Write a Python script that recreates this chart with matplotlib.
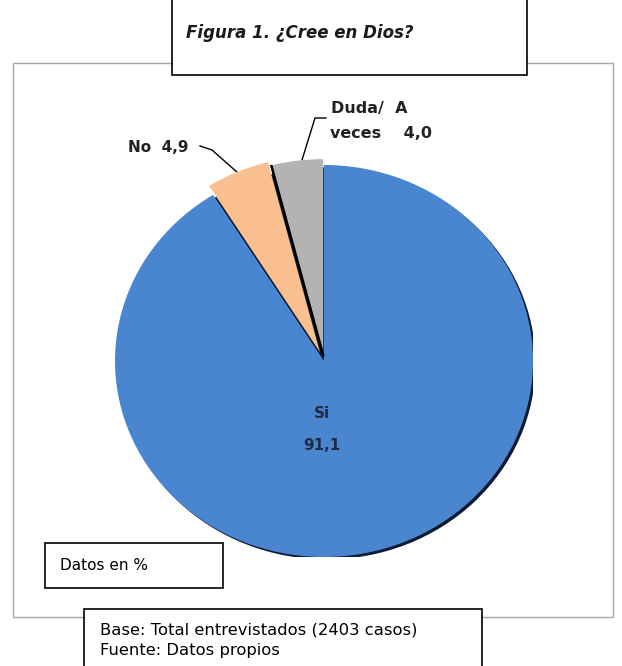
import matplotlib
matplotlib.use("Agg")
import matplotlib.pyplot as plt
from matplotlib.patches import Rectangle, Ellipse
from matplotlib.lines import Line2D
import numpy as np

# data
labels = ["Si", "No", "Duda/ A veces"]
values = [91.1, 4.9, 4.0]
colors = ["#4A86D0", "#FAC090", "#B3B3B3"]
explode = [0.0, 0.05, 0.03]

W, H = 622, 666
fig = plt.figure(figsize=(W / 100, H / 100), dpi=100)

def fx(x):
   return x / W

def fy(y):
   return 1 - y / H

def box(x0, y0, x1, y1, ec="black", lw=1.2):
   r = Rectangle((fx(x0), fy(y1)), fx(x1) - fx(x0), fy(y0) - fy(y1),
                 transform=fig.transFigure, fc="white", ec=ec, lw=lw, zorder=1)
   fig.patches.append(r)

# outer chart frame
box(13, 63, 613, 617, ec="#A6A6A6", lw=1.0)

# pie axes (ellipse bounds in pixels)
cx, cy, rx, ry = 324, 361, 209, 196
ax = fig.add_axes([fx(cx - rx), fy(cy + ry), 2 * rx / W, 2 * ry / H])
ax.set_zorder(2)
# dark shadow rim
ax.add_patch(Ellipse((0.012, -0.012), 2, 2, fc="#0D1A33", ec="none", zorder=0))
wedges, _ = ax.pie(values, colors=colors, startangle=90, counterclock=False,
                   explode=explode, wedgeprops=dict(lw=0), radius=1)
for w in wedges:
   w.set_zorder(1)
ax.set_aspect("auto")
ax.set_xlim(-1, 1)
ax.set_ylim(-1, 1)
ax.axis("off")

# black edge between No and Duda
ang = np.deg2rad(90 + values[2] * 3.6)
ex, ey = explode[2] * np.cos(np.deg2rad(90 + values[2] * 1.8)), explode[2] * np.sin(np.deg2rad(90 + values[2] * 1.8))
ax.plot([ex, ex + np.cos(ang)], [ey, ey + np.sin(ang)], color="black", lw=1.8, zorder=3)

# title box
box(172, -5, 527, 75)
fig.text(fx(186), fy(33), "Figura 1. ¿Cree en Dios?", fontsize=12, style="italic",
         weight="bold", family="DejaVu Sans", va="center", ha="left", zorder=3,
         color="#1A1A1A")

# slice labels
lab = dict(fontsize=11, weight="bold", va="center", color="#222222")
fig.text(fx(322), fy(413), "Si", ha="center", **{**lab, "color": "#1F2A44"})
fig.text(fx(322), fy(445), "91,1", ha="center", **{**lab, "color": "#1F2A44"})
fig.text(fx(128), fy(148), "No  4,9", ha="left", **lab)
fig.text(fx(331), fy(108), "Duda/  A", ha="left", **{**lab, "fontsize": 11.5})
fig.text(fx(330), fy(134), "veces    4,0", ha="left", **{**lab, "fontsize": 11.5})

# leader lines
fig.add_artist(Line2D([fx(200), fx(212), fx(238)], [fy(146), fy(150), fy(173)],
                      color="black", lw=1.0))
fig.add_artist(Line2D([fx(326), fx(315), fx(302)], [fy(118), fy(118), fy(160)],
                      color="black", lw=1.0))

# data note box
box(45, 543, 223, 588)
fig.text(fx(60), fy(566), "Datos en %", fontsize=11, ha="left", va="center", zorder=3)

# base / source box
box(84, 609, 482, 675)
fig.text(fx(100), fy(630), "Base: Total entrevistados (2403 casos)", fontsize=11.8,
         ha="left", va="center", zorder=3)
fig.text(fx(100), fy(651), "Fuente: Datos propios", fontsize=11.8,
         ha="left", va="center", zorder=3)

fig.savefig("out.png", dpi=100)
